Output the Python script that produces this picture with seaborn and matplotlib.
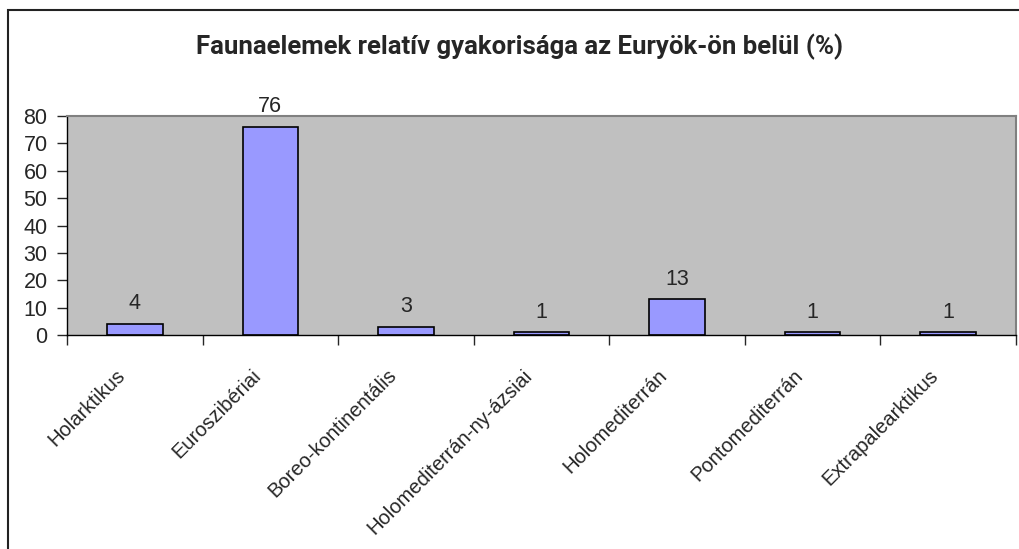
import matplotlib
matplotlib.use("Agg")
import matplotlib.pyplot as plt
import matplotlib.transforms as mtransforms
import seaborn as sns
import pandas as pd
from matplotlib.patches import Rectangle

# data
categories = ['Holarktikus', 'Euroszibériai', 'Boreo-kontinentális', 'Holomediterrán-ny-ázsiai',
              'Holomediterrán', 'Pontomediterrán', 'Extrapalearktikus']
values = [4, 76, 3, 1, 13, 1, 1]
title = 'Faunaelemek relatív gyakorisága az Euryök-ön belül (%)'

df = pd.DataFrame({'cat': categories, 'val': values})

sns.set_style('white')
plt.rcParams['font.family'] = ['Liberation Sans', 'DejaVu Sans']

fig = plt.figure(figsize=(10.2, 5.49), dpi=100)
ax = fig.add_axes([0.0657, 0.3898, 0.930, 0.3989])

sns.barplot(data=df, x='cat', y='val', color='#9999FF', edgecolor='black',
            linewidth=1.2, width=0.41, saturation=1, ax=ax)
ax.set_facecolor('#C0C0C0')
ax.set_xlim(-0.5, len(categories) - 0.5)
ax.set_ylim(0, 80)
ax.set_yticks(range(0, 81, 10))
ax.set_xlabel('')
ax.set_ylabel('')

for s in ['top', 'right']:
    ax.spines[s].set_color('#808080')
    ax.spines[s].set_linewidth(1.5)
for s in ['left', 'bottom']:
    ax.spines[s].set_color('black')
    ax.spines[s].set_linewidth(1)

ax.tick_params(axis='y', direction='out', length=7, width=1, labelsize=15.5, left=True, pad=7)
ax.set_xticks(range(len(categories)))
ax.set_xticklabels(categories, rotation=45, ha='right', va='top',
                   rotation_mode='anchor', fontsize=14.5)
ax.tick_params(axis='x', which='major', length=0, pad=22)
# shift the rotated labels to the left, like the original
shift = mtransforms.ScaledTranslation(-19 / 100, 0, fig.dpi_scale_trans)
for lab in ax.get_xticklabels():
    lab.set_transform(lab.get_transform() + shift)
ax.set_xticks([i - 0.5 for i in range(len(categories) + 1)], minor=True)
ax.tick_params(axis='x', which='minor', direction='out', length=7, width=1, bottom=True)

ax.bar_label(ax.containers[0], labels=[str(v) for v in values], padding=7, fontsize=15.5)

fig.text(0.509, 0.914, title, ha='center', va='center', fontsize=18.5, fontweight='bold',
         family=['Roboto', 'DejaVu Sans'])

# outer chart border (cropped at right and bottom)
fig.patches.append(Rectangle((8 / 1020, -0.05), 1.1, 1 - 10 / 549 + 0.05,
                             transform=fig.transFigure, fill=False,
                             edgecolor='#222222', linewidth=1.5))

fig.savefig('out.png', dpi=100)
